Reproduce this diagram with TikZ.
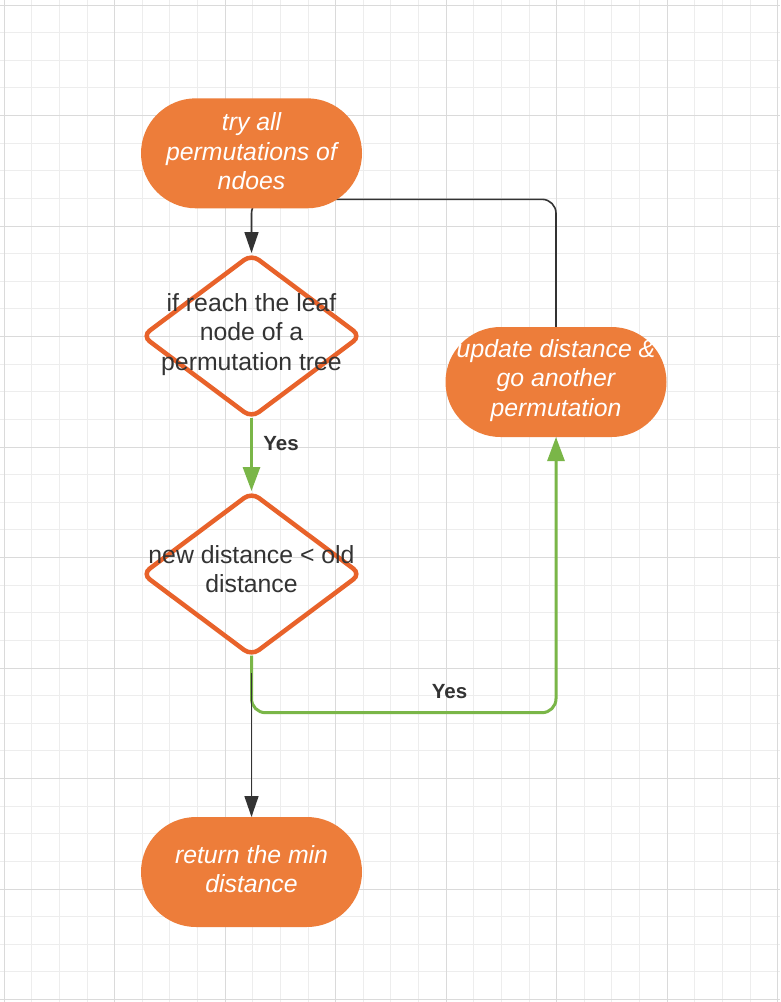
\documentclass[tikz,border=0pt]{standalone}
\usepackage{fontspec}
\setmainfont{Liberation Sans}
\usetikzlibrary{shapes.geometric,arrows.meta}
\pgfdeclarelayer{bg}
\pgfsetlayers{bg,main}
\definecolor{lorange}{HTML}{ED7D3A}
\definecolor{dorange}{HTML}{E8622A}
\definecolor{lgreen}{HTML}{7AB648}
\definecolor{dgray}{HTML}{333333}
\definecolor{gminor}{HTML}{EDEDED}
\definecolor{gmajor}{HTML}{DADADA}
\begin{document}
\begin{tikzpicture}[x=1pt,y=-1pt,
  terminal/.style={rectangle, fill=lorange, rounded corners=55pt, minimum width=221pt, minimum height=110pt, inner sep=0pt, outer sep=0pt},
  decision/.style={diamond, draw=dorange, line width=4.5pt, rounded corners=9pt, minimum width=218pt, minimum height=163pt, inner sep=0pt, outer sep=0pt},
  ttext/.style={text=white, font=\itshape\fontsize{24.8}{29.3}\selectfont, align=center, inner sep=0pt},
  dtext/.style={text=dgray, font=\fontsize{24.8}{29.3}\selectfont, align=center, inner sep=0pt},
  lbl/.style={text=dgray, font=\bfseries\fontsize{20.5}{24}\selectfont, inner sep=0pt},
  blk/.style={draw=dgray, line width=1.6pt, rounded corners=14pt, -{Triangle[length=21pt,width=14pt]}},
  grn/.style={draw=lgreen, line width=3pt, rounded corners=14pt, -{Triangle[length=24pt,width=17pt]}},
  gridminor/.style={draw=gminor, line width=1pt},
  gridmajor/.style={draw=gmajor, line width=1pt},
]
\useasboundingbox (0,0) rectangle (780,1002);
\begin{pgfonlayer}{bg}
  \fill[white] (0,0) rectangle (780,1002);
  \foreach \k in {0,...,28} {\draw[gridminor] ({4.2+27.625*\k},0) -- ({4.2+27.625*\k},1002);}
  \foreach \k in {0,...,36} {\draw[gridminor] (0,{5+27.625*\k}) -- (780,{5+27.625*\k});}
  \foreach \k in {0,...,7} {\draw[gridmajor] ({4.2+110.5*\k},0) -- ({4.2+110.5*\k},1002);}
  \foreach \k in {0,...,9} {\draw[gridmajor] (0,{5+110.5*\k}) -- (780,{5+110.5*\k});}
\end{pgfonlayer}

% shapes
\node[terminal] (start) at (251.5,153.3) {};
\node[decision] (d1) at (251.5,336) {};
\node[decision] (d2) at (251.5,574) {};
\node[terminal] (upd) at (556,382) {};
\node[terminal] (ret) at (251.5,872) {};

% texts
\node[ttext] (tstart) at (251.5,151.4) {try all\\permutations of\\ndoes};
\node[dtext] (td1) at (251.5,334.3) {if reach the leaf\\node of a\\permutation tree};
\node[dtext] (td2) at (251.5,569.2) {new distance < old\\distance};
\node[ttext] (tupd) at (556,380.3) {update distance \&\\go another\\permutation};
\node[ttext] (tret) at (251.5,868.8) {return the min\\distance};
\node[lbl] (yes1) at (281,443.8) {Yes};
\node[lbl] (yes2) at (449.5,691.7) {Yes};

% connectors
\coordinate (loopc) at (251.5,199.3);
\coordinate (grnc) at (251.5,712.7);
\coordinate (blks) at (251.5,673);
\begin{pgfonlayer}{bg}
  \draw[blk, shorten >=1.5pt] (upd.north) |- (loopc) -- (d1.north);
  \draw[grn, shorten >=1.5pt] (d1.south) -- (d2.north);
  \draw[grn] (d2.south) -- (grnc) -| (upd.south);
  \draw[blk] (blks) -- (ret.north);
\end{pgfonlayer}
\end{tikzpicture}
\end{document}
